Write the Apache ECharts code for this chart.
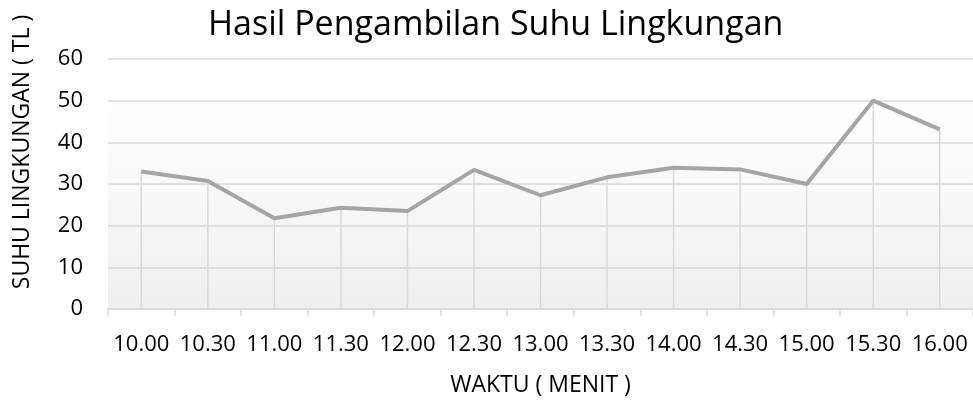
<!DOCTYPE html>
<html>
<head>
<meta charset="utf-8">
<script src="https://cdn.jsdelivr.net/npm/echarts@6/dist/echarts.min.js"></script>
<style>
	html,body{margin:0;padding:0;background:#fff;}
	#chart{width:973px;height:401px;}
</style>
</head>
<body>
<div id="chart"></div>
<script>
var waktu = ['10.00','10.30','11.00','11.30','12.00','12.30','13.00','13.30','14.00','14.30','15.00','15.30','16.00'];
var suhu = [33, 30.7, 21.8, 24.3, 23.5, 33.4, 27.3, 31.6, 33.9, 33.5, 30, 50, 43.1];
var yTicks = [0, 60, 10]; // min, max, interval

var font = 'Open Sans';
var chart = echarts.init(document.getElementById('chart'));
chart.setOption({
	animation: false,
	backgroundColor: '#fff',
	title: {
		text: 'Hasil Pengambilan Suhu Lingkungan',
		left: 203,
		top: 3,
		textStyle: {fontFamily: font, fontSize: 34, fontWeight: 'normal', color: '#000'}
	},
	grid: {
		left: 108, right: 0, top: 59, bottom: 92,
		containLabel: false,
		outerBoundsMode: 'none',
		show: true,
		borderWidth: 0,
		backgroundColor: {
			type: 'linear', x: 0, y: 0, x2: 0, y2: 1,
			colorStops: [{offset: 0, color: '#ffffff'}, {offset: 0.17, color: '#ffffff'}, {offset: 1, color: '#efefef'}]
		}
	},
	graphic: [{
		type: 'text',
		x: 22, y: 152,
		rotation: Math.PI / 2,
		style: {
			text: 'SUHU LINGKUNGAN ( TL )',
			fontFamily: font, fontSize: 23, fill: '#000',
			textAlign: 'center', textVerticalAlign: 'middle'
		}
	}],
	xAxis: {
		type: 'category',
		data: waktu,
		name: 'WAKTU ( MENIT )',
		nameLocation: 'middle',
		nameGap: 65,
		nameTextStyle: {fontFamily: font, fontSize: 23, color: '#000'},
		axisLine: {lineStyle: {color: '#d9d9d9', width: 1.5}},
		axisTick: {show: true, length: 7, lineStyle: {color: '#d9d9d9', width: 1.5}},
		axisLabel: {fontFamily: font, fontSize: 22, color: '#000', margin: 25, interval: 0},
		splitLine: {show: false}
	},
	yAxis: {
		type: 'value',
		min: yTicks[0], max: yTicks[1], interval: yTicks[2],
		axisLine: {show: false},
		axisTick: {show: false},
		axisLabel: {fontFamily: font, fontSize: 22, color: '#000', margin: 25},
		splitLine: {lineStyle: {color: '#d9d9d9', width: 1.5}}
	},
	series: [{
		type: 'bar',
		data: suhu,
		barWidth: 1.5,
		itemStyle: {color: '#d9d9d9'},
		silent: true,
		z: 1
	},{
		type: 'line',
		data: suhu,
		symbol: 'none',
		lineStyle: {color: '#a5a5a5', width: 4},
		z: 3
	}]
});
</script>
</body>
</html>
